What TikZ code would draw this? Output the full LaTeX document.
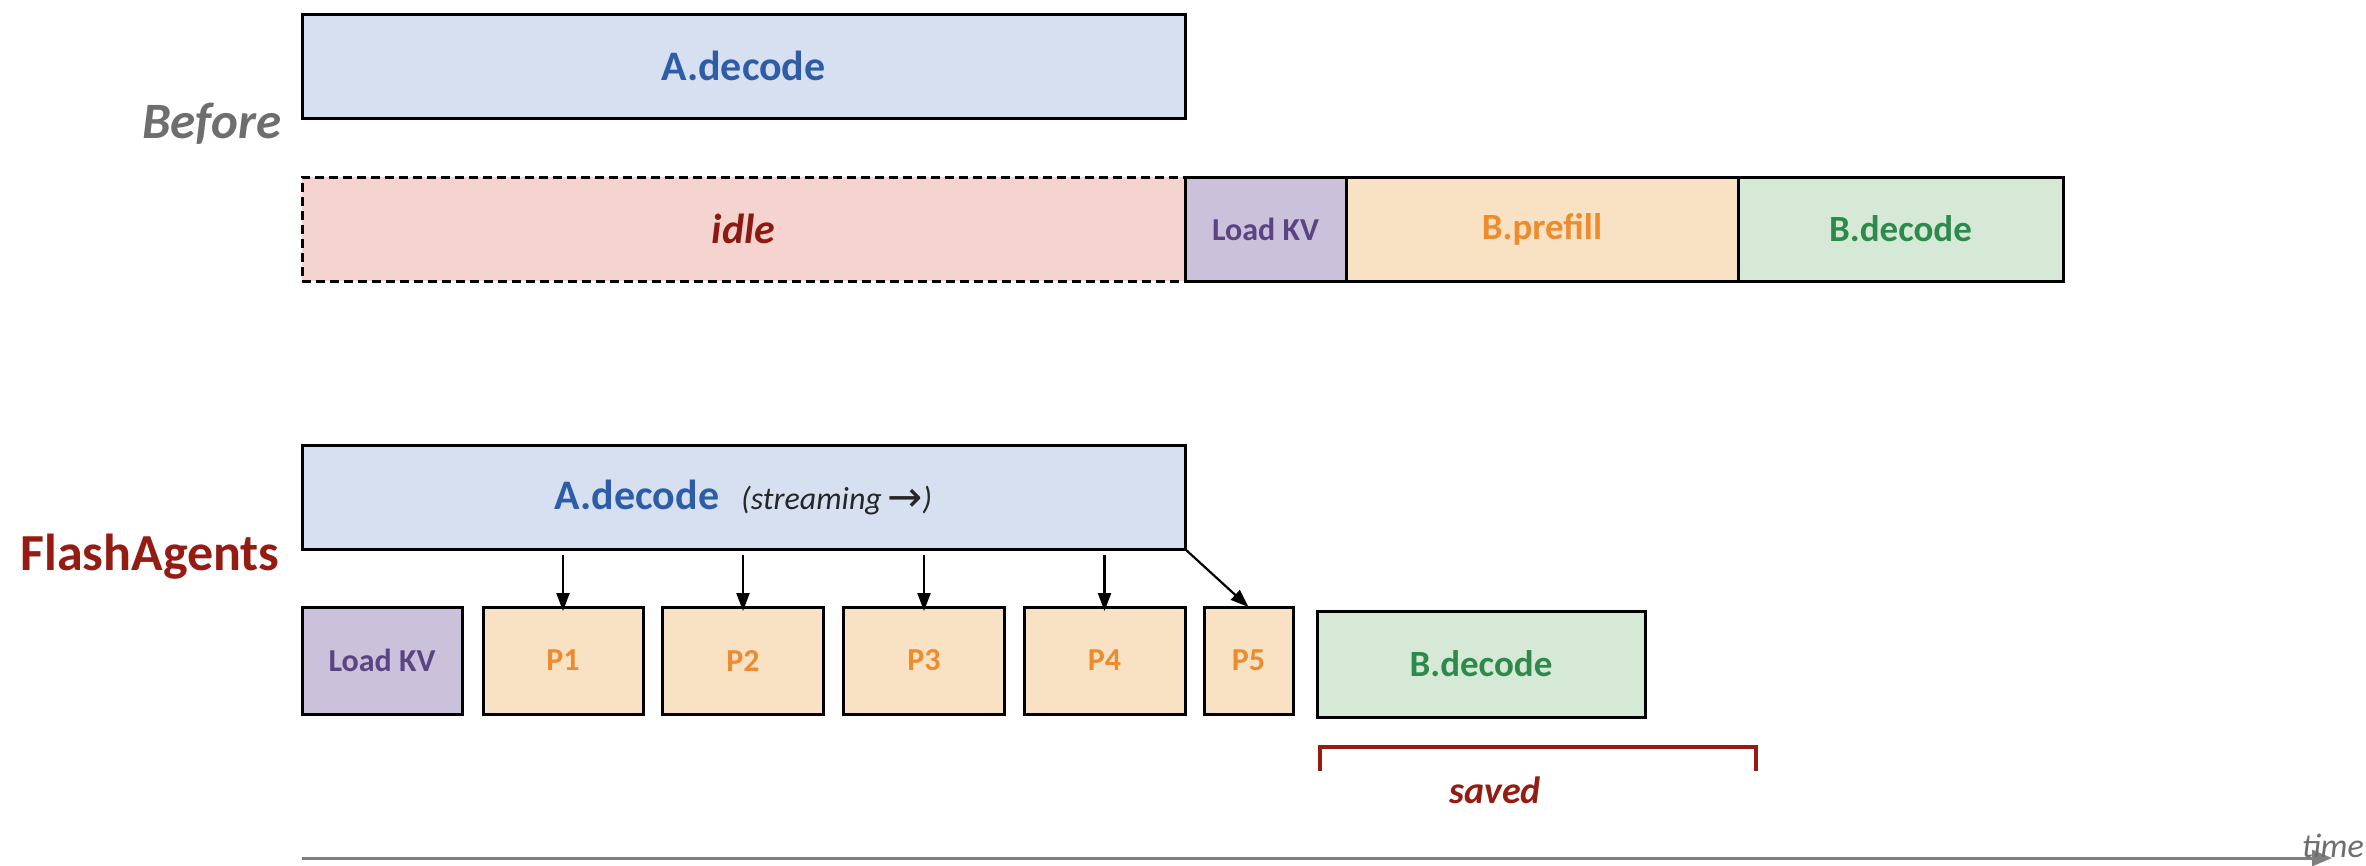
\documentclass[tikz,border=0pt]{standalone}
\usepackage{fontspec}
\setmainfont{Carlito}
\newfontfamily\symfont{DejaVu Sans}
\usetikzlibrary{arrows.meta}

\definecolor{adfill}{HTML}{D6E0F0}
\definecolor{adtext}{HTML}{2E5DA8}
\definecolor{idlefill}{HTML}{F5D3CE}
\definecolor{idletext}{HTML}{8C1A12}
\definecolor{kvfill}{HTML}{CCC1DA}
\definecolor{kvtext}{HTML}{5C4484}
\definecolor{pffill}{HTML}{F9E2C4}
\definecolor{pftext}{HTML}{ED8B2F}
\definecolor{bdfill}{HTML}{D5E9D6}
\definecolor{bdtext}{HTML}{2D8A4B}
\definecolor{labelgray}{HTML}{6E6E6E}
\definecolor{flashred}{HTML}{951C12}
\definecolor{axisgray}{HTML}{7F7F7F}

\newcommand{\fs}[1]{\fontsize{#1pt}{#1pt}\selectfont}

\tikzset{
  blk/.style={draw=black, line width=3pt, inner sep=0pt, outer sep=0pt,
              font=\bfseries\fs{40}},
  dblk/.style={blk, draw=black, dash pattern=on 9pt off 5pt},
  arr/.style={draw=black, line width=2.2pt, -{Triangle[length=18pt,width=13pt]}},
  axisline/.style={draw=axisgray, line width=3pt, -{Triangle[length=20pt,width=16pt]}},
  bracket/.style={draw=flashred, line width=4pt},
}

\begin{document}
\begin{tikzpicture}[x=1pt,y=-1pt]
\useasboundingbox (0,0) rectangle (2366,865);

% ---- Before ----
\node[anchor=base east, text=labelgray, font=\bfseries\itshape\fs{51}] (before) at (285,138) {Before};

\node[blk, fill=adfill, text=adtext, font=\bfseries\fs{42}, minimum width=883pt, minimum height=104pt] (ad1) at (743.5,66) {A.decode};

\node[dblk, fill=idlefill, text=idletext, font=\bfseries\itshape\fs{42}, minimum width=883pt, minimum height=104pt] (idle) at (743.5,229) {idle};
\node[blk, fill=kvfill, text=kvtext, font=\bfseries\fs{32}, minimum width=161pt, minimum height=104pt] (kv1) at (1265.5,229) {Load KV};
\node[blk, fill=pffill, text=pftext, font=\bfseries\fs{37}, minimum width=392pt, minimum height=104pt] (bpre) at (1542,229) {B.prefill};
\node[blk, fill=bdfill, text=bdtext, font=\bfseries\fs{37}, minimum width=325pt, minimum height=104pt] (bdec1) at (1900.5,229) {B.decode};

% ---- FlashAgents ----
\node[anchor=base east, text=flashred, font=\bfseries\fs{52}] (flash) at (283,570) {FlashAgents};

\node[blk, fill=adfill, text=adtext, font=\bfseries\fs{42}, minimum width=883pt, minimum height=104pt] (ad2) at (743.5,497)
  {A.decode\hspace{22pt}{\mdseries\itshape\color{black!85}\fs{32}(streaming\,{\symfont\upshape\fs{42}\raisebox{-2pt}{→}})}};

\node[blk, fill=kvfill, text=kvtext, font=\bfseries\fs{32}, minimum width=160pt, minimum height=107pt] (kv2) at (382,660.5) {Load KV};
\node[blk, fill=pffill, text=pftext, font=\bfseries\fs{32}, minimum width=160pt, minimum height=107pt] (p1) at (563,660.5) {P1};
\node[blk, fill=pffill, text=pftext, font=\bfseries\fs{32}, minimum width=161pt, minimum height=107pt] (p2) at (743,660.5) {P2};
\node[blk, fill=pffill, text=pftext, font=\bfseries\fs{32}, minimum width=161pt, minimum height=107pt] (p3) at (924,660.5) {P3};
\node[blk, fill=pffill, text=pftext, font=\bfseries\fs{32}, minimum width=161pt, minimum height=107pt] (p4) at (1104.5,660.5) {P4};
\node[blk, fill=pffill, text=pftext, font=\bfseries\fs{32}, minimum width=89pt, minimum height=107pt] (p5) at (1248.5,660.5) {P5};
\node[blk, fill=bdfill, text=bdtext, font=\bfseries\fs{37}, minimum width=328pt, minimum height=106pt] (bdec2) at (1481,664) {B.decode};

% streamed chunks feeding each prefill piece
\foreach \p in {p1,p2,p3,p4}
  \draw[arr] ([yshift=-6pt]ad2.south -| \p.north) -- ([yshift=-4pt]\p.north);
\draw[arr] (ad2.south east) -- (p5.north);

% ---- saved span ----
\coordinate (s1) at (1320,771);
\coordinate (s2) at (1320,747);
\coordinate (s3) at (1756,747);
\coordinate (s4) at (1756,771);
\draw[bracket] (s1) -- (s2) -- (s3) -- (s4);
\node[anchor=base, text=flashred, font=\bfseries\itshape\fs{38}] (saved) at (1495,803) {saved};

% ---- time axis ----
\coordinate (t0) at (302,858);
\coordinate (t1) at (2332,858);
\draw[axisline] (t0) -- (t1);
\node[anchor=base east, text=labelgray, font=\itshape\fs{34}, inner sep=0pt] (time) at (2364,857) {time};
\end{tikzpicture}
\end{document}
